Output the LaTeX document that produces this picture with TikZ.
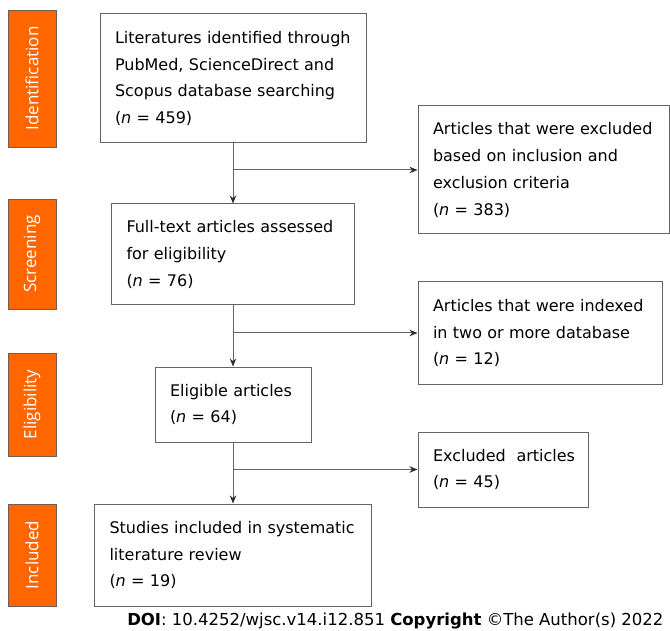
\documentclass[tikz,border=0pt]{standalone}
\usepackage{fontspec}
\setmainfont{DejaVu Sans}
\newfontfamily\sidefont{Open Sans}
\usetikzlibrary{arrows.meta}
\definecolor{sideorange}{RGB}{255,102,0}
\definecolor{sideedge}{RGB}{120,90,75}
\definecolor{boxedge}{RGB}{100,100,100}
\definecolor{tipgray}{RGB}{45,45,45}
\begin{document}
\begin{tikzpicture}[x=1pt, y=-1pt,
		stage/.style={rectangle, fill=sideorange, draw=sideedge, line width=0.8pt, rotate=90,
			minimum height=48pt, inner sep=0pt, text=white, font=\sidefont\fontsize{17}{20}\selectfont},
		box/.style={rectangle, fill=white, draw=boxedge, line width=1pt, inner xsep=15pt, inner ysep=0pt,
			align=left, font=\fontsize{16}{26.7}\selectfont},
		flow/.style={draw=boxedge, line width=1pt, -{Stealth[length=8pt, width=6.5pt, color=tipgray]}}]
	\useasboundingbox (0, 0) rectangle (670, 631);
	% stages
	\node[stage, minimum width=137pt] (s1) at (32, 78.5) {Identification};
	\node[stage, minimum width=110pt] (s2) at (32, 254) {Screening};
	\node[stage, minimum width=103pt] (s3) at (32, 404.5) {Eligibility};
	\node[stage, minimum width=102pt] (s4) at (32, 555) {Included};
	% main column
	\node[box, text width=236pt, minimum height=129pt] (lit) at (233, 78.5)
		{Literatures identified through\\PubMed, ScienceDirect and\\Scopus database searching\\(\textit{n} = 459)};
	\node[box, text width=213pt, minimum height=101pt] (full) at (233, 254.5)
		{Full-text articles assessed\\for eligibility\\(\textit{n} = 76)};
	\node[box, text width=126pt, minimum height=75pt] (elig) at (233, 404.5)
		{Eligible articles\\(\textit{n} = 64)};
	\node[box, text width=247pt, minimum height=102pt] (incl) at (233, 555)
		{Studies included in systematic\\literature review\\(\textit{n} = 19)};
	% excluded column
	\node[box, text width=221pt, minimum height=128pt] (excl) at (543.5, 170)
		{Articles that were excluded\\based on inclusion and\\exclusion criteria\\(\textit{n} = 383)};
	\node[box, text width=214pt, minimum height=102pt] (dup) at (540, 333)
		{Articles that were indexed\\in two or more database\\(\textit{n} = 12)};
	\node[box, text width=140pt, minimum height=75pt] (rem) at (503, 469.5)
		{\mbox{Excluded\ \ articles}\\(\textit{n} = 45)};
	% arrows
	\foreach \a/\b in {lit/full, full/elig, elig/incl} {
		\draw[flow] (\a.south) -- (\b.north);
		}
	\foreach \a/\b in {lit/excl, full/dup, elig/rem} {
		\draw[flow] (\a.south |- \b.west) -- (\b.west);
		}
	\node[anchor=base east, font=\fontsize{16.5}{20}\selectfont] (doi) at (667, 625)
		{\textbf{DOI}: 10.4252/wjsc.v14.i12.851 \textbf{Copyright} ©The Author(s) 2022};
\end{tikzpicture}
\end{document}
